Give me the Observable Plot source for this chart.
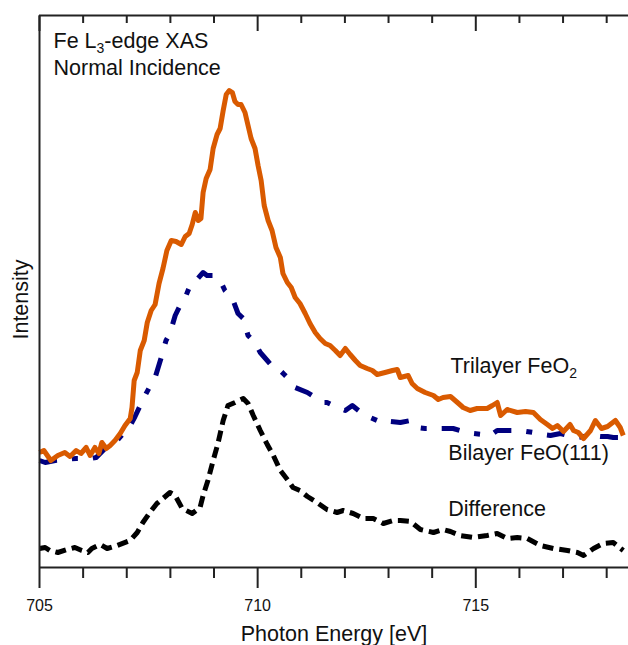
<!DOCTYPE html>
<html><head><meta charset="utf-8">
<script src="https://cdn.jsdelivr.net/npm/d3@7"></script>
<script src="https://cdn.jsdelivr.net/npm/@observablehq/plot@0.6"></script>
<style>html,body{margin:0;padding:0;background:#fff;} #chart{width:628px;height:645px;overflow:hidden}</style>
</head><body><div id="chart"></div>
<script>
// Trilayer FeO2 (solid orange)
const trilayerEnergy = [
705.00,705.10,705.26,705.42,705.58,705.70,705.84,705.95,706.07,706.16,
706.27,706.36,706.43,706.53,706.62,706.73,706.85,706.96,707.08,707.12,
707.17,707.24,707.31,707.40,707.47,707.56,707.65,707.74,707.83,707.92,
708.02,708.13,708.25,708.34,708.43,708.50,708.57,708.64,708.70,708.75,
708.82,708.91,708.98,709.07,709.14,709.21,709.28,709.35,709.42,709.48,
709.55,709.62,709.71,709.78,709.85,709.94,710.01,710.08,710.15,710.24,
710.33,710.42,710.52,710.58,710.68,710.77,710.86,710.97,711.09,711.20,
711.32,711.43,711.55,711.66,711.78,711.89,712.01,712.12,712.24,712.35,
712.51,712.63,712.74,712.92,713.09,713.20,713.27,713.45,713.54,713.66,
713.84,714.03,714.14,714.25,714.42,714.58,714.71,714.87,715.03,715.26,
715.38,715.49,715.57,715.72,715.95,716.14,716.32,716.48,716.64,716.76,
716.87,717.01,717.16,717.24,717.35,717.47,717.63,717.74,717.88,718.02,
718.20,718.31,718.38];
const trilayerIntensity = [
1.15,1.17,1.07,1.12,1.15,1.11,1.17,1.14,1.20,1.12,
1.20,1.14,1.25,1.19,1.22,1.27,1.34,1.42,1.49,1.60,
1.87,1.95,2.17,2.27,2.45,2.57,2.63,2.84,2.99,3.17,
3.27,3.26,3.23,3.31,3.34,3.43,3.55,3.47,3.49,3.75,
3.89,3.98,4.19,4.33,4.39,4.57,4.73,4.77,4.75,4.66,
4.63,4.63,4.55,4.42,4.29,4.19,4.02,3.87,3.62,3.47,
3.37,3.20,3.10,2.94,2.85,2.80,2.70,2.64,2.54,2.44,
2.35,2.29,2.24,2.22,2.17,2.12,2.19,2.13,2.07,2.02,
1.99,1.97,1.93,1.95,1.97,1.98,1.90,1.92,1.84,1.79,
1.75,1.72,1.68,1.70,1.71,1.65,1.60,1.57,1.59,1.59,
1.62,1.65,1.52,1.58,1.55,1.56,1.55,1.48,1.43,1.39,
1.42,1.36,1.43,1.37,1.35,1.29,1.37,1.47,1.39,1.41,
1.47,1.40,1.32];

// Bilayer FeO(111) (navy dash-dot)
const bilayerEnergy = [
705.00,705.13,705.36,705.58,705.84,706.18,706.30,706.50,706.62,706.92,
707.08,707.19,707.33,707.42,707.53,707.65,707.79,707.90,707.99,708.11,
708.22,708.34,708.47,708.59,708.75,708.84,708.98,709.14,709.25,709.42,
709.55,709.67,709.78,709.94,710.06,710.22,710.36,710.47,710.61,710.75,
710.86,711.14,711.32,711.50,711.59,711.78,712.01,712.17,712.40,712.58,
712.74,712.86,713.04,713.27,713.50,713.66,713.84,714.03,714.19,714.48,
714.64,714.81,714.94,715.15,715.33,715.49,715.68,715.86,716.02,716.32,
716.53,716.71,716.94,717.12,717.33,717.63,717.86,718.02,718.15,718.38];
const bilayerIntensity = [
1.07,1.05,1.07,1.08,1.09,1.09,1.10,1.19,1.19,1.34,
1.42,1.51,1.64,1.72,1.81,1.90,2.10,2.27,2.34,2.52,
2.62,2.70,2.84,2.87,2.95,2.92,2.92,2.87,2.77,2.69,
2.54,2.49,2.32,2.25,2.15,2.07,2.00,1.99,1.93,1.87,
1.80,1.75,1.70,1.65,1.65,1.61,1.57,1.62,1.54,1.50,
1.47,1.49,1.46,1.45,1.47,1.40,1.39,1.39,1.39,1.39,
1.37,1.35,1.34,1.33,1.32,1.37,1.37,1.37,1.37,1.35,
1.33,1.32,1.34,1.32,1.30,1.32,1.31,1.31,1.30,1.30];

// Difference (black dashed)
const differenceEnergy = [
705.00,705.13,705.24,705.42,705.63,705.81,705.97,706.11,706.20,706.39,
706.55,706.78,707.08,707.24,707.37,707.53,707.69,707.83,707.99,708.11,
708.27,708.50,708.68,708.75,708.86,708.98,709.09,709.21,709.32,709.48,
709.67,709.78,709.90,710.06,710.22,710.36,710.52,710.68,710.81,710.97,
711.14,711.36,711.59,711.82,711.96,712.19,712.42,712.65,712.88,713.11,
713.27,713.50,713.73,714.03,714.25,714.42,714.64,714.94,715.26,715.49,
715.72,715.95,716.18,716.48,716.78,717.10,717.33,717.47,717.70,717.92,
718.15,718.38];
const differenceIntensity = [
0.19,0.20,0.17,0.15,0.18,0.20,0.17,0.15,0.19,0.23,
0.19,0.22,0.27,0.35,0.45,0.55,0.64,0.69,0.75,0.72,
0.59,0.54,0.60,0.72,0.87,1.07,1.24,1.47,1.62,1.65,
1.69,1.64,1.52,1.37,1.23,1.12,0.97,0.88,0.80,0.77,
0.71,0.65,0.58,0.55,0.57,0.54,0.49,0.49,0.44,0.47,
0.47,0.46,0.38,0.35,0.38,0.36,0.32,0.30,0.32,0.34,
0.29,0.30,0.29,0.22,0.19,0.17,0.15,0.12,0.19,0.24,
0.25,0.17];

const majorTicks = [705, 710, 715];
const minorTicks = [706, 707, 708, 709, 711, 712, 713, 714, 716, 717, 718];
const xDomain = [705, 718.5];
const yDomain = [0, 5.52];

const seriesLabels = ["Trilayer FeO2", "Bilayer FeO(111)", "Difference"];
const labelEnergy = [714.42, 714.37, 714.37];
const labelIntensity = [1.95, 1.08, 0.52];
const titleLines = ["Fe L3-edge XAS", "Normal Incidence"];
const xLabel = "Photon Energy [eV]";
const yLabel = "Intensity";

const rows = (E, I) => E.map((e, i) => ({e, v: I[i]}));
const tri = rows(trilayerEnergy, trilayerIntensity);
const bi = rows(bilayerEnergy, bilayerIntensity);
const diff = rows(differenceEnergy, differenceIntensity);
const labels = seriesLabels.map((t, i) => ({t, e: labelEnergy[i], v: labelIntensity[i]}));

const axisColor = "#222";
const font = "'Liberation Sans', Arial, Helvetica, sans-serif";
const fs = 21.5;

const chart = Plot.plot({
  width: 628, height: 645,
  marginLeft: 39, marginRight: 0, marginTop: 15, marginBottom: 78,
  style: {fontFamily: font, fontSize: "16px", color: "#111", background: "#fff"},
  x: {domain: xDomain, axis: null, label: null},
  y: {domain: yDomain, axis: null, label: null},
  marks: [
    Plot.line(diff, {x: "e", y: "v", stroke: "#000", strokeWidth: 5, strokeDasharray: "11,6", strokeLinecap: "butt", strokeLinejoin: "round"}),
    Plot.line(bi, {x: "e", y: "v", stroke: "#00007f", strokeWidth: 5, strokeDasharray: "18,15,6,15", strokeLinecap: "butt", strokeLinejoin: "round"}),
    Plot.line(tri, {x: "e", y: "v", stroke: "#d95a00", strokeWidth: 5, strokeLinecap: "butt", strokeLinejoin: "round"}),
    Plot.ruleY([yDomain[0]], {stroke: axisColor, strokeWidth: 2}),
    Plot.ruleY([yDomain[1]], {stroke: axisColor, strokeWidth: 2}),
    Plot.ruleX([xDomain[0]], {stroke: axisColor, strokeWidth: 2}),
    Plot.axisX({anchor: "bottom", ticks: majorTicks, tickSize: 21, tickPadding: 11, fontSize: 16, stroke: axisColor, strokeWidth: 2, fill: "#111", label: null, tickFormat: d => String(d)}),
    Plot.axisX({anchor: "bottom", ticks: minorTicks, tickSize: 11, stroke: axisColor, strokeWidth: 2, fill: "none", label: null}),
    Plot.axisX({anchor: "top", ticks: majorTicks, tickSize: 15, dy: 15, stroke: axisColor, strokeWidth: 2, fill: "none", label: null}),
    Plot.axisX({anchor: "top", ticks: minorTicks, tickSize: 7, dy: 7, stroke: axisColor, strokeWidth: 2, fill: "none", label: null}),
    Plot.text(labels, {x: "e", y: "v", text: "t", textAnchor: "start", lineAnchor: "bottom", fontSize: fs, fill: "#111"}),
    Plot.text([titleLines[0]], {text: d => d, frameAnchor: "top-left", dx: 14, dy: 32, textAnchor: "start", lineAnchor: "bottom", fontSize: fs, fill: "#111"}),
    Plot.text([titleLines[1]], {text: d => d, frameAnchor: "top-left", dx: 14, dy: 59, textAnchor: "start", lineAnchor: "bottom", fontSize: fs, fill: "#111"}),
    Plot.text([xLabel], {text: d => d, frameAnchor: "bottom", dy: 73, textAnchor: "middle", lineAnchor: "bottom", fontSize: fs, fill: "#111"}),
    Plot.text([yLabel], {text: d => d, frameAnchor: "left", rotate: -90, dx: -12, dy: 8, textAnchor: "middle", lineAnchor: "bottom", fontSize: fs, fill: "#111"})
  ]
});

// subscripts as real text in tspans
const subs = {
  "Trilayer FeO2": [{t: "Trilayer FeO"}, {t: "2", sub: true}],
  "Fe L3-edge XAS": [{t: "Fe L"}, {t: "3", sub: true}, {t: "-edge XAS"}]
};
chart.querySelectorAll("text").forEach(t => {
  const parts = subs[t.textContent];
  if (!parts || t.children.length) return;
  t.textContent = "";
  let shifted = false;
  parts.forEach(p => {
    const ts = document.createElementNS("http://www.w3.org/2000/svg", "tspan");
    ts.textContent = p.t;
    if (p.sub) { ts.setAttribute("font-size", "14"); ts.setAttribute("dy", "5"); shifted = true; }
    else if (shifted) { ts.setAttribute("dy", "-5"); shifted = false; }
    t.appendChild(ts);
  });
});
document.getElementById("chart").appendChild(chart);
</script>
</body></html>
